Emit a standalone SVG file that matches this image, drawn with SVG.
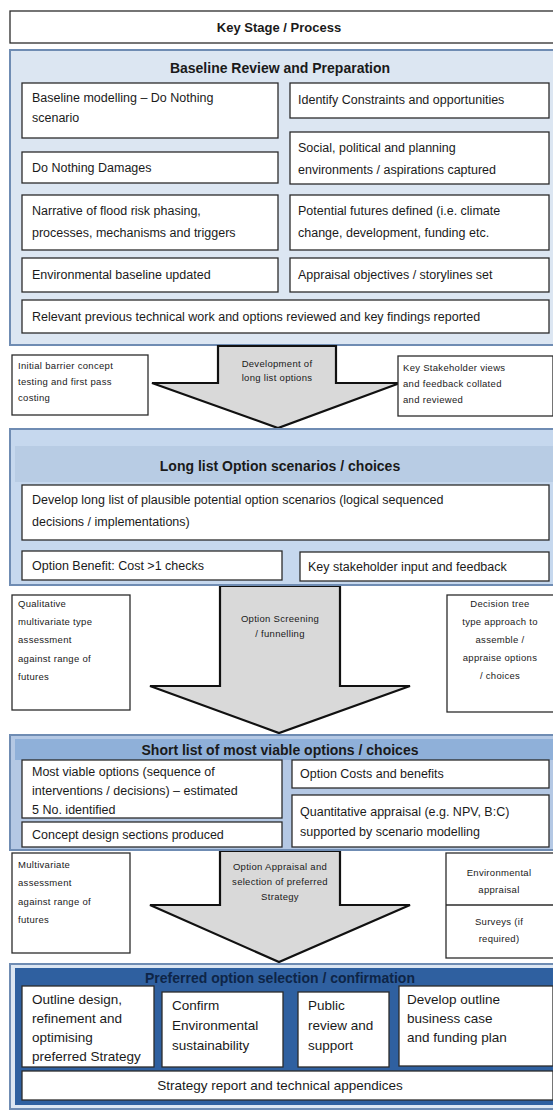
<svg xmlns="http://www.w3.org/2000/svg" width="553" height="1111" viewBox="0 0 553 1111">
<style>
text{font-family:"Liberation Sans",Arial,sans-serif;fill:#1a1a1a}
.b{fill:#fff;stroke:#2b2b2b;stroke-width:1.3}
.t{font-size:12.5px}
.s{font-size:9.5px;letter-spacing:0.3px}
.h{font-size:14px;font-weight:bold;text-anchor:middle}
.p{font-size:13.5px}
.c{text-anchor:middle}
.sec{stroke:#6f8cb3;stroke-width:2}
.arr{fill:#d9d9d9;stroke:#111;stroke-width:2.2;stroke-linejoin:miter}
</style>
<rect width="553" height="1111" fill="#fff"/>

<g id="key-stage">
<rect class="b" x="10" y="11" width="550" height="32"/>
<text class="h" x="279" y="32" style="font-size:13px">Key Stage / Process</text>
</g>

<g id="baseline">
<rect class="sec" x="10" y="50" width="550" height="295" fill="#dce6f2"/>
<text class="h" x="280" y="73">Baseline Review and Preparation</text>
<g id="b1"><rect class="b" x="22" y="83" width="256" height="55"/><text class="t" x="32" y="102">Baseline modelling – Do Nothing</text><text class="t" x="32" y="122">scenario</text></g>
<g id="b2"><rect class="b" x="290" y="83" width="259" height="35"/><text class="t" x="298" y="104">Identify Constraints and opportunities</text></g>
<g id="b3"><rect class="b" x="290" y="132" width="259" height="52"/><text class="t" x="298" y="152">Social, political and planning</text><text class="t" x="298" y="174">environments / aspirations captured</text></g>
<g id="b4"><rect class="b" x="22" y="152" width="256" height="31"/><text class="t" x="32" y="172">Do Nothing Damages</text></g>
<g id="b5"><rect class="b" x="22" y="195" width="256" height="55"/><text class="t" x="32" y="215">Narrative of flood risk phasing,</text><text class="t" x="32" y="237">processes, mechanisms and triggers</text></g>
<g id="b6"><rect class="b" x="290" y="195" width="259" height="55"/><text class="t" x="298" y="215">Potential futures defined (i.e. climate</text><text class="t" x="298" y="237">change, development, funding etc.</text></g>
<g id="b7"><rect class="b" x="22" y="258" width="256" height="34"/><text class="t" x="32" y="279">Environmental baseline updated</text></g>
<g id="b8"><rect class="b" x="290" y="258" width="259" height="34"/><text class="t" x="298" y="279">Appraisal objectives / storylines set</text></g>
<g id="b9"><rect class="b" x="22" y="300" width="527" height="33"/><text class="t" x="32" y="321">Relevant previous technical work and options reviewed and key findings reported</text></g>
</g>

<g id="connectors">
<polygon class="arr" points="218,346 336,346 336,383 400,383 278,428 152,383 218,383"/>
<polygon class="arr" points="220,586 340,586 340,686 410,686 279,733 150,686 220,686"/>
<polygon class="arr" points="220,851 340,851 340,905 410,905 279,962 150,905 220,905"/>
</g>

<g id="arrow1-label">
<text class="s c" x="277" y="367">Development of</text>
<text class="s c" x="277" y="381">long list options</text>
</g>
<g id="side1-left"><rect class="b" x="12" y="355" width="136" height="60"/>
<text class="s" x="18" y="369">Initial barrier concept</text><text class="s" x="18" y="385">testing and first pass</text><text class="s" x="18" y="401">costing</text></g>
<g id="side1-right"><rect class="b" x="398" y="356" width="155" height="60"/>
<text class="s" x="403" y="371">Key Stakeholder views</text><text class="s" x="403" y="387">and feedback collated</text><text class="s" x="403" y="403">and reviewed</text></g>

<g id="longlist">
<rect class="sec" x="10" y="429" width="550" height="156" fill="#c6d8ee"/>
<rect x="15" y="446" width="540" height="36" fill="#b8cce4"/>
<text class="h" x="280" y="471">Long list Option scenarios / choices</text>
<g id="l1"><rect class="b" x="22" y="485" width="527" height="55"/><text class="t" x="32" y="504">Develop long list of plausible potential option scenarios (logical sequenced</text><text class="t" x="32" y="526">decisions / implementations)</text></g>
<g id="l2"><rect class="b" x="22" y="551" width="260" height="29"/><text class="t" x="32" y="570">Option Benefit: Cost &gt;1 checks</text></g>
<g id="l3"><rect class="b" x="300" y="552" width="249" height="29"/><text class="t" x="308" y="571">Key stakeholder input and feedback</text></g>
</g>

<g id="arrow2-label">
<text class="s c" x="280" y="622">Option Screening</text>
<text class="s c" x="280" y="637">/ funnelling</text>
</g>
<g id="side2-left"><rect class="b" x="12" y="595" width="118" height="115"/>
<text class="s" x="18" y="607">Qualitative</text><text class="s" x="18" y="625">multivariate  type</text><text class="s" x="18" y="643">assessment</text><text class="s" x="18" y="662">against range  of</text><text class="s" x="18" y="680">futures</text></g>
<g id="side2-right"><rect class="b" x="447" y="595" width="108" height="117"/>
<text class="s c" x="500" y="607">Decision tree</text><text class="s c" x="500" y="625">type approach to</text><text class="s c" x="500" y="643">assemble /</text><text class="s c" x="500" y="661">appraise  options</text><text class="s c" x="500" y="679">/ choices</text></g>

<g id="shortlist">
<rect class="sec" x="10" y="735" width="550" height="115" fill="#b4c8e4"/>
<rect x="15" y="739" width="540" height="21" fill="#8fb0d9"/>
<text class="h" x="280" y="755">Short list of most viable options / choices</text>
<g id="s1"><rect class="b" x="22" y="760" width="260" height="58"/><text class="t" x="32" y="776">Most viable options (sequence of</text><text class="t" x="32" y="795">interventions / decisions) – estimated</text><text class="t" x="32" y="814">5 No. identified</text></g>
<g id="s2"><rect class="b" x="22" y="822" width="260" height="25"/><text class="t" x="32" y="839">Concept design sections produced</text></g>
<g id="s3"><rect class="b" x="292" y="760" width="257" height="28"/><text class="t" x="300" y="778">Option Costs and benefits</text></g>
<g id="s4"><rect class="b" x="292" y="795" width="257" height="52"/><text class="t" x="300" y="816">Quantitative appraisal (e.g. NPV, B:C)</text><text class="t" x="300" y="836">supported by scenario modelling</text></g>
</g>

<g id="arrow3-label">
<text class="s c" x="280" y="870">Option Appraisal  and</text>
<text class="s c" x="280" y="885">selection of preferred</text>
<text class="s c" x="280" y="900">Strategy</text>
</g>
<g id="side3-left"><rect class="b" x="12" y="853" width="118" height="100"/>
<text class="s" x="18" y="868">Multivariate</text><text class="s" x="18" y="886">assessment</text><text class="s" x="18" y="905">against range  of</text><text class="s" x="18" y="923">futures</text></g>
<g id="side3-right"><rect class="b" x="446" y="853" width="109" height="105"/><line x1="446" y1="905" x2="555" y2="905" stroke="#2b2b2b" stroke-width="1.3"/>
<text class="s c" x="499" y="876">Environmental</text><text class="s c" x="499" y="893">appraisal</text><text class="s c" x="499" y="925">Surveys (if</text><text class="s c" x="499" y="942">required)</text></g>

<g id="preferred">
<rect class="sec" x="10" y="964" width="550" height="145" fill="#dce6f2"/>
<rect x="15" y="968" width="540" height="137" fill="#2f60a0"/>
<text class="h" x="280" y="983" style="fill:#0e2547">Preferred option selection / confirmation</text>
<g id="p1"><rect class="b" x="22" y="986" width="132" height="81"/><text class="p" x="32" y="1004">Outline design,</text><text class="p" x="32" y="1023">refinement and</text><text class="p" x="32" y="1042">optimising</text><text class="p" x="32" y="1061">preferred Strategy</text></g>
<g id="p2"><rect class="b" x="162" y="992" width="121" height="75"/><text class="p" x="172" y="1010">Confirm</text><text class="p" x="172" y="1030">Environmental</text><text class="p" x="172" y="1050">sustainability</text></g>
<g id="p3"><rect class="b" x="298" y="992" width="91" height="75"/><text class="p" x="308" y="1010">Public</text><text class="p" x="308" y="1030">review and</text><text class="p" x="308" y="1050">support</text></g>
<g id="p4"><rect class="b" x="399" y="986" width="154" height="80"/><text class="p" x="407" y="1004">Develop outline</text><text class="p" x="407" y="1023">business case</text><text class="p" x="407" y="1042">and funding plan</text></g>
<g id="p5"><rect class="b" x="22" y="1071" width="531" height="29"/><text class="p c" x="280" y="1090">Strategy report and technical appendices</text></g>
</g>
</svg>
